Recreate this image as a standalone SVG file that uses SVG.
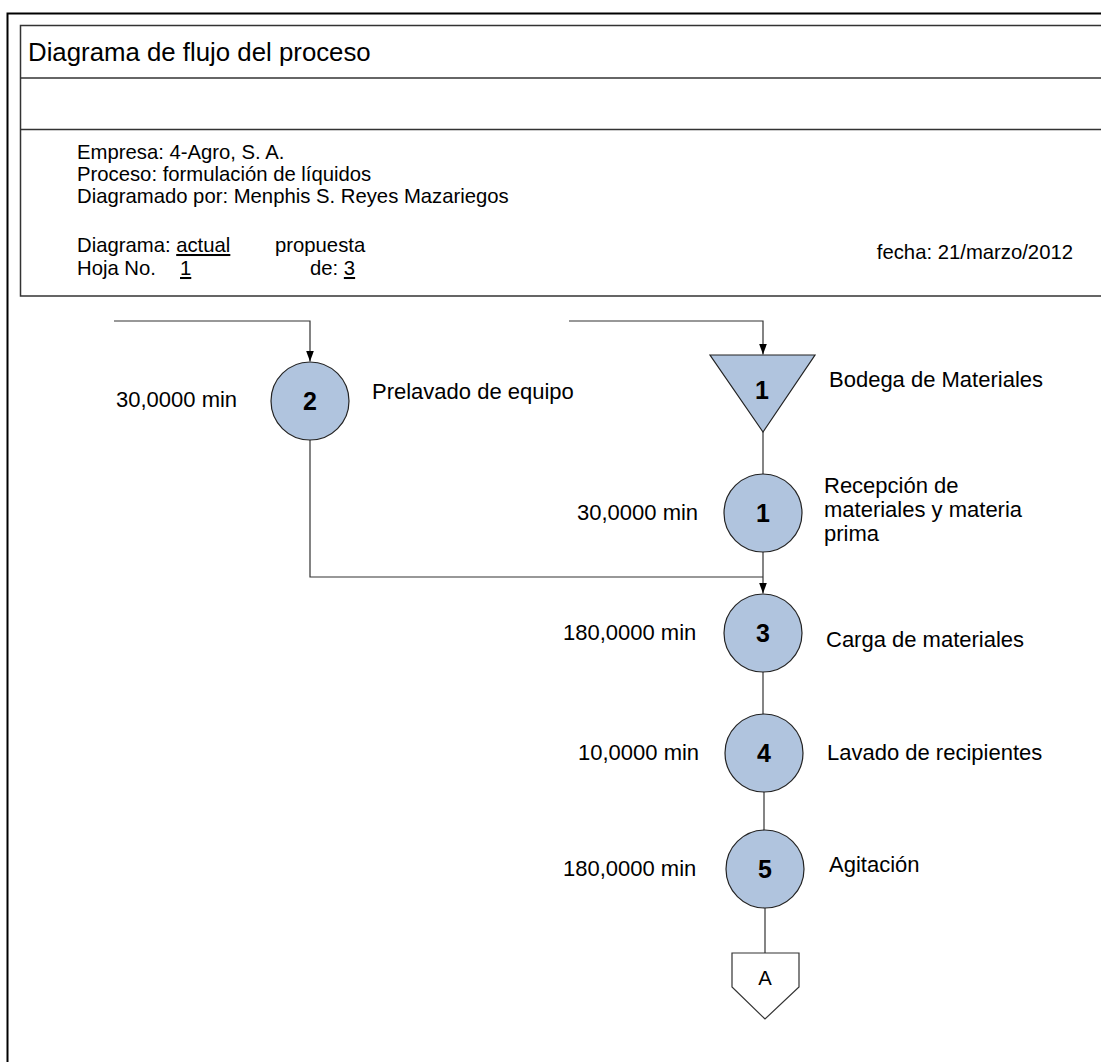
<svg xmlns="http://www.w3.org/2000/svg" width="1101" height="1062" viewBox="0 0 1101 1062">
  <style>
    text { font-family: "Liberation Sans", Arial, sans-serif; fill: #000; }
    .title { font-size: 25.8px; }
    .hdr { font-size: 20.3px; }
    .lbl { font-size: 22px; }
    .num { font-size: 25px; font-weight: bold; text-anchor: middle; }
    .u { text-decoration: underline; }
    .op { fill: #b0c4de; stroke: #222; stroke-width: 1.2; }
    .conn { fill: none; stroke: #333; stroke-width: 1.2; }
    .frame { fill: none; stroke: #000; stroke-width: 2; }
    .rule { fill: none; stroke: #333; stroke-width: 1.5; }
  </style>
  <defs>
    <marker id="arrow" markerUnits="userSpaceOnUse" viewBox="0 0 11 8" markerWidth="11" markerHeight="8" refX="11" refY="4" orient="auto">
      <path d="M0,0 L11,4 L0,8 z" fill="#000"/>
    </marker>
  </defs>

  <rect width="1101" height="1062" fill="#fff"/>

  <!-- page frame and header block -->
  <g id="frame">
    <path class="frame" d="M7.5,1070 V13.5 H1110"/>
    <path class="rule" d="M1110,25.5 H20.5 V296 H1110"/>
    <line class="rule" x1="20.5" y1="78" x2="1110" y2="78"/>
    <line class="rule" x1="20.5" y1="129.5" x2="1110" y2="129.5"/>
  </g>

  <g id="header">
    <text class="title" x="28" y="61">Diagrama de flujo del proceso</text>
    <text class="hdr" x="77" y="159">Empresa: 4-Agro, S. A.</text>
    <text class="hdr" x="77" y="181">Proceso: formulación de líquidos</text>
    <text class="hdr" x="77" y="203">Diagramado por: Menphis S. Reyes Mazariegos</text>
    <text class="hdr" x="77" y="252">Diagrama: <tspan class="u">actual</tspan></text>
    <text class="hdr" x="275" y="252">propuesta</text>
    <text class="hdr" x="77" y="275">Hoja No.</text>
    <text class="hdr u" x="180" y="275">1</text>
    <text class="hdr" x="310" y="275">de: <tspan class="u">3</tspan></text>
    <text class="hdr" x="1073" y="259" text-anchor="end">fecha: 21/marzo/2012</text>
  </g>

  <!-- connectors -->
  <g id="connectors">
    <path class="conn" d="M114,321 H310 V361.5" marker-end="url(#arrow)"/>
    <path class="conn" d="M569,321 H763 V354.5" marker-end="url(#arrow)"/>
    <path class="conn" d="M763,432 V474"/>
    <path class="conn" d="M763,552 V593.5" marker-end="url(#arrow)"/>
    <path class="conn" d="M310,440 V577 H763"/>
    <path class="conn" d="M763,672 V714"/>
    <path class="conn" d="M764,792 V830"/>
    <path class="conn" d="M765,908 V953"/>
  </g>

  <!-- operation 2 -->
  <g id="op2">
    <circle class="op" cx="310" cy="401" r="39"/>
    <text class="num" x="310" y="410">2</text>
    <text class="lbl" x="116" y="407">30,0000 min</text>
    <text class="lbl" x="372" y="399">Prelavado de equipo</text>
  </g>

  <!-- storage 1 -->
  <g id="store1">
    <polygon class="op" points="710,355 815,355 763,432"/>
    <text class="num" x="762" y="399">1</text>
    <text class="lbl" x="829" y="387">Bodega de Materiales</text>
  </g>

  <!-- operation 1 -->
  <g id="op1">
    <circle class="op" cx="763" cy="513" r="39"/>
    <text class="num" x="763" y="522">1</text>
    <text class="lbl" x="577" y="520">30,0000 min</text>
    <text class="lbl" x="824" y="493">Recepción de</text>
    <text class="lbl" x="824" y="517">materiales y materia</text>
    <text class="lbl" x="824" y="541">prima</text>
  </g>

  <!-- operation 3 -->
  <g id="op3">
    <circle class="op" cx="763" cy="633" r="39"/>
    <text class="num" x="763" y="642">3</text>
    <text class="lbl" x="563" y="640">180,0000 min</text>
    <text class="lbl" x="826" y="647">Carga de materiales</text>
  </g>

  <!-- operation 4 -->
  <g id="op4">
    <circle class="op" cx="764" cy="753" r="39"/>
    <text class="num" x="764" y="762">4</text>
    <text class="lbl" x="578" y="760">10,0000 min</text>
    <text class="lbl" x="827" y="760">Lavado de recipientes</text>
  </g>

  <!-- operation 5 -->
  <g id="op5">
    <circle class="op" cx="765" cy="869" r="39"/>
    <text class="num" x="765" y="878">5</text>
    <text class="lbl" x="563" y="876">180,0000 min</text>
    <text class="lbl" x="829" y="872">Agitación</text>
  </g>

  <!-- off-page connector A -->
  <g id="offpage-A">
    <polygon points="732,953 799,953 799,987 765,1019 732,987" fill="#fff" stroke="#333" stroke-width="1.2"/>
    <text class="hdr" x="765" y="985" text-anchor="middle">A</text>
  </g>
</svg>
